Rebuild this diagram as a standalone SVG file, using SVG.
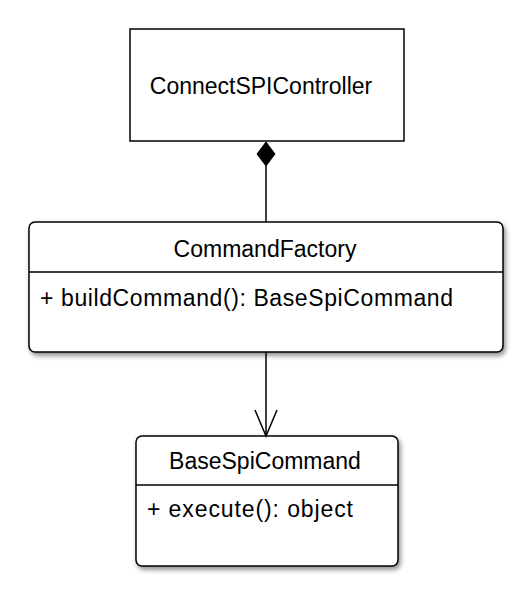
<svg xmlns="http://www.w3.org/2000/svg" width="530" height="593" viewBox="0 0 530 593">
<defs>
<filter id="sh" x="-10%" y="-10%" width="120%" height="130%">
<feGaussianBlur in="SourceAlpha" stdDeviation="2.5"/>
<feOffset dx="2" dy="3" result="b"/>
<feComponentTransfer><feFuncA type="linear" slope="0.45"/></feComponentTransfer>
<feMerge><feMergeNode/><feMergeNode in="SourceGraphic"/></feMerge>
</filter>
</defs>
<style>
.box{fill:#fff;stroke:#000;stroke-width:1.5}
.ln{stroke:#000;stroke-width:1.5;fill:none}
text{font-family:"Liberation Sans",Arial,sans-serif;font-size:23px;fill:#000}
.c{text-anchor:middle}
</style>
<rect width="530" height="593" fill="#fff"/>
<g id="ConnectSPIController">
<rect class="box" x="130" y="29" width="274" height="112"/>
<text class="c" x="261" y="94">ConnectSPIController</text>
</g>
<g id="CommandFactory">
<rect class="box" x="29" y="222" width="474" height="130" rx="6" filter="url(#sh)"/>
<line class="ln" x1="29" y1="272" x2="503" y2="272"/>
<text class="c" x="265" y="257">CommandFactory</text>
<text x="40" y="306" textLength="413" lengthAdjust="spacing">+ buildCommand(): BaseSpiCommand</text>
</g>
<g id="BaseSpiCommand">
<rect class="box" x="136" y="436" width="262" height="130" rx="6" filter="url(#sh)"/>
<line class="ln" x1="136" y1="485" x2="398" y2="485"/>
<text class="c" x="265" y="469">BaseSpiCommand</text>
<text x="147" y="517" textLength="206" lengthAdjust="spacing">+ execute(): object</text>
</g>
<g id="connectors">
<polygon points="266,142 275,154 266,166 257,154" fill="#000" stroke="#000" stroke-width="1"/>
<line class="ln" x1="266" y1="166" x2="266" y2="222"/>
<line class="ln" x1="266" y1="352" x2="266" y2="436"/>
<polyline class="ln" points="255,410 266,436 277,410"/>
</g>
</svg>
